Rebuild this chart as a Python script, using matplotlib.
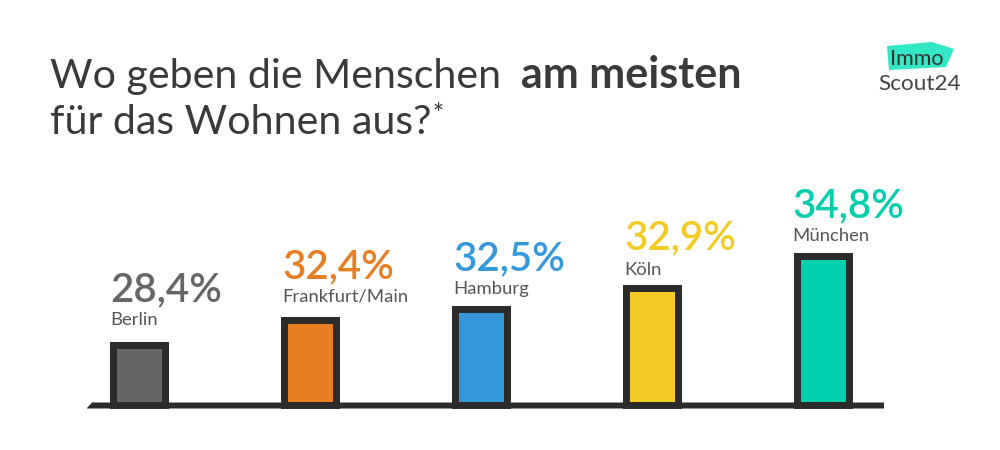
import matplotlib
matplotlib.use("Agg")
import matplotlib.pyplot as plt
from matplotlib.patches import Polygon

cities = ["Berlin", "Frankfurt/Main", "Hamburg", "Köln", "München"]
value_labels = ["28,4%", "32,4%", "32,5%", "32,9%", "34,8%"]
# drawn bar heights (the original is not to a linear scale)
bar_heights = [60, 85, 96, 117, 149]
bar_colors = ["#666666", "#E67E22", "#3498DB", "#F2CB25", "#00D0AE"]
label_colors = ["#666666", "#E67E22", "#3498DB", "#F2CB25", "#00CDAC"]
positions = [139, 310, 481, 652, 823]
label_left = [110, 282, 453, 624, 792]
city_base = [325, 301, 294, 275, 241]
value_base = [301, 278, 270, 249, 217]

plt.rcParams["font.family"] = ["Lato", "DejaVu Sans"]
fig = plt.figure(figsize=(10, 4.5), dpi=100, facecolor="white")
ax = fig.add_axes([0, 0, 1, 1])
ax.set_xlim(0, 1000)
ax.set_ylim(450, 0)
ax.axis("off")

BASE = 405
ax.bar(positions, [-h for h in bar_heights], bottom=BASE, width=52,
       color=bar_colors, edgecolor="#2b2b2b", linewidth=5.0, zorder=2)
ax.fill([87, 92, 884, 884, 87], [408, 402.5, 402.5, 408.5, 408.5], color="#2b2b2b", lw=0, zorder=3)

for left, cb, vb, city, val, c in zip(label_left, city_base, value_base, cities, value_labels, label_colors):
    ax.text(left, cb, city, fontsize=13.3, color="#555555", ha="left", va="baseline")
    ax.text(left, vb, val, fontsize=29, color=c, ha="left", va="baseline", fontweight="semibold")

ax.text(50, 88, "Wo geben die Menschen", fontsize=29.6, color="#3a3a3a", va="baseline", ha="left")
ax.text(521, 88, "am meisten", fontsize=31, color="#3a3a3a", va="baseline", ha="left", fontweight="bold")
ax.text(50, 134, "für das Wohnen aus?", fontsize=29.6, color="#3a3a3a", va="baseline", ha="left")
ax.text(432, 123, "*", fontsize=19, color="#3a3a3a", va="baseline", ha="left")

ax.add_patch(Polygon([(887, 46), (932, 42), (954, 49), (946, 67), (889, 70)], closed=True, color="#33E6C4", lw=0))
ax.text(890, 65, "Immo", fontsize=15.5, color="#333333", va="baseline", ha="left")
ax.text(878, 90, "Scout24", fontsize=16.2, color="#444444", va="baseline", ha="left")

fig.savefig("out.png", dpi=100)
